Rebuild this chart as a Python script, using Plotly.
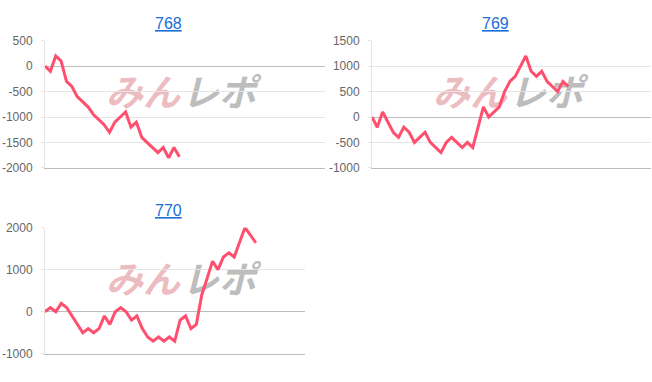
import plotly.graph_objects as go

W, H = 652, 382

def px(x):
    return x / W

def py(y):
    return 1 - y / H

# ---------------- data ----------------
titles = ["768", "769", "770"]

values_768 = [0, -100, 200, 100, -300, -400, -600, -700, -800, -950, -1050, -1150,
              -1300, -1100, -1000, -900, -1200, -1100, -1400, -1500, -1600, -1700,
              -1600, -1800, -1600, -1780]

values_769 = [0, -200, 100, -100, -300, -400, -200, -300, -500, -400, -300, -500,
              -600, -700, -500, -400, -500, -600, -500, -600, -200, 200, 0, 100,
              200, 500, 700, 800, 1000, 1200, 900, 800, 900, 700, 600, 500, 700, 600]

values_770 = [0, 100, 0, 200, 100, -100, -300, -500, -400, -500, -400, -100, -300,
              0, 100, 0, -200, -100, -400, -600, -700, -600, -700, -600, -700,
              -200, -100, -400, -300, 400, 800, 1200, 1000, 1300, 1400, 1300,
              1650, 2000, 1820, 1640]

y_ticks_768 = [-2000, -1500, -1000, -500, 0, 500]
y_ticks_769 = [-1000, -500, 0, 500, 1000, 1500]
y_ticks_770 = [-1000, 0, 1000, 2000]

watermark_left = "みん"
watermark_right = "レポ"

# ---------------- styling ----------------
LINE_COLOR = "#ff4f6e"
GRID = "#e5e5e5"
ZERO = "#bdbdbd"
TICKFONT = dict(family="Liberation Sans, Arial, sans-serif", size=12, color="#666666")

fig = go.Figure()

series = [values_768, values_769, values_770]
for k, vals in enumerate(series):
    suffix = "" if k == 0 else str(k + 1)
    fig.add_trace(go.Scatter(
        x=list(range(len(vals))), y=vals,
        mode="lines",
        line=dict(color=LINE_COLOR, width=3),
        xaxis="x" + suffix, yaxis="y" + suffix,
        hoverinfo="skip", showlegend=False,
    ))

panels = [
    dict(xd=(45, 325), yd=(35, 167), xr=[0, 52.1], yr=[-2000, 500], tv=y_ticks_768),
    dict(xd=(372, 651), yd=(35, 167), xr=[0, 52.6], yr=[-1000, 1500], tv=y_ticks_769),
    dict(xd=(45, 305), yd=(229, 360), xr=[0, 48.1], yr=[-1000, 2000], tv=y_ticks_770),
]

layout = dict(
    width=W, height=H,
    margin=dict(l=0, r=0, t=0, b=0),
    paper_bgcolor="white",
    plot_bgcolor="rgba(0,0,0,0)",
    showlegend=False,
)

for k, p in enumerate(panels):
    suffix = "" if k == 0 else str(k + 1)
    layout["xaxis" + suffix] = dict(
        domain=[px(p["xd"][0]), px(p["xd"][1])],
        range=p["xr"],
        anchor="y" + suffix,
        showgrid=False, zeroline=False,
        showticklabels=False, ticks="",
        showline=True, linecolor=ZERO, linewidth=1,
        fixedrange=True,
    )
    layout["yaxis" + suffix] = dict(
        domain=[py(p["yd"][1]), py(p["yd"][0])],
        range=p["yr"],
        anchor="x" + suffix,
        tickmode="array", tickvals=p["tv"],
        ticktext=[str(v) for v in p["tv"]],
        showgrid=True, gridcolor=GRID, gridwidth=1,
        zeroline=True, zerolinecolor=ZERO, zerolinewidth=1,
        showline=True, linecolor=GRID, linewidth=1,
        ticks="outside", ticklen=3, tickcolor=GRID,
        ticklabelstandoff=6,
        tickfont=TICKFONT,
        fixedrange=True,
    )

fig.update_layout(**layout)

# ---------------- titles (links) ----------------
title_pos = [(168, 17.5), (495.5, 17.5), (168, 211)]
for t, (tx, ty) in zip(titles, title_pos):
    fig.add_annotation(
        x=px(tx), y=py(ty), xref="paper", yref="paper",
        text=f"<a href='#{t}' style='color:#1a6ed8'><u>{t}</u></a>",
        showarrow=False, xanchor="center", yanchor="middle",
        font=dict(family="Liberation Sans, Arial, sans-serif", size=16, color="#1a6ed8"),
    )

# ---------------- watermarks (below traces) ----------------
wm_centers = [(185, 92.5), (512, 92.5), (185, 286)]
for cx, cy in wm_centers:
    fig.add_shape(
        type="rect", xref="paper", yref="paper",
        x0=px(cx - 82), x1=px(cx - 2), y0=py(cy + 17), y1=py(cy - 17),
        line=dict(width=0), fillcolor="rgba(0,0,0,0)", layer="below",
        label=dict(text=watermark_left, textposition="middle center",
                   font=dict(family="Noto Sans CJK JP", size=37, color="#ecbcc0",
                             weight="bold", style="italic")),
    )
    fig.add_shape(
        type="rect", xref="paper", yref="paper",
        x0=px(cx - 6), x1=px(cx + 74), y0=py(cy + 17), y1=py(cy - 17),
        line=dict(width=0), fillcolor="rgba(0,0,0,0)", layer="below",
        label=dict(text=watermark_right, textposition="middle center",
                   font=dict(family="Noto Sans CJK JP", size=37, color="#bdbdbd",
                             weight="bold", style="italic")),
    )

fig.write_html("out.html")
